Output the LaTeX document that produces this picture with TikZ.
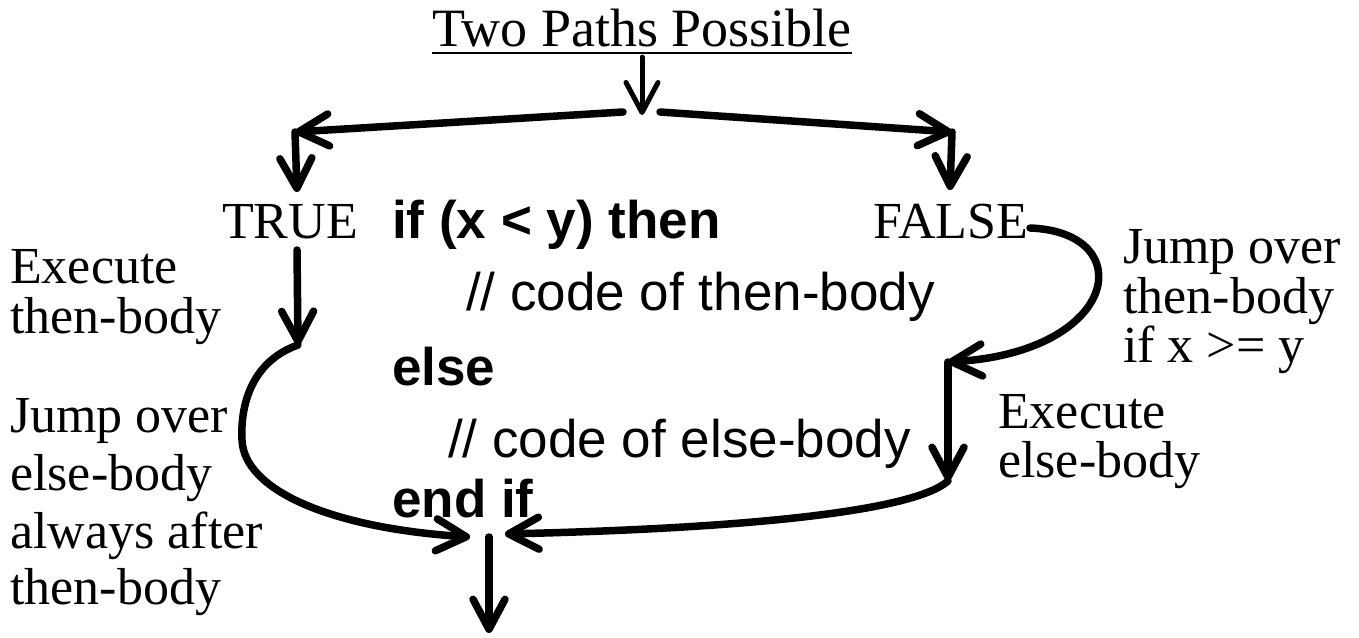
\documentclass[tikz,border=0pt]{standalone}
\usepackage{fontspec}
\setmainfont{Liberation Serif}
\setsansfont{Liberation Sans}
\usetikzlibrary{arrows.meta}

\tikzset{
  note/.style={anchor=base west, inner sep=0pt, font=\fontsize{52}{56}\selectfont},
  code/.style={anchor=base west, inner sep=0pt, font=\sffamily\fontsize{53}{56}\selectfont},
  kw/.style={code, font=\sffamily\bfseries\fontsize{53}{56}\selectfont},
  flow/.style={line width=7.5pt, line cap=round, line join=round,
    -{Straight Barb[length=30pt,width=32pt,round]}},
}

\begin{document}
\begin{tikzpicture}[x=1pt, y=-1pt]
\useasboundingbox (0,0) rectangle (1359,637);

% heading
\node[note, anchor=base, font=\fontsize{54}{58}\selectfont] (title) at (642,46) {Two Paths Possible};
\draw[line width=2.5pt] ([yshift=-7pt]title.base west) -- ([yshift=-7pt]title.base east);

% the if statement
\node[note] (true) at (222,238) {TRUE};
\node[note] (false) at (873,238) {FALSE};
\node[kw] (if) at (392,238) {if (x < y) then};
\node[code] (thenbody) at (466,310) {// code of then-body};
\node[kw] (else) at (392,385) {else};
\node[code] (elsebody) at (448,457) {// code of else-body};
\node[kw] (endif) at (392,517) {end if};

% side notes
\node[note] (exec1) at (10,283) {Execute};
\node[note] (exec2) at (10,333) {then-body};
\node[note] (jump1) at (10,432) {Jump over};
\node[note] (jump2) at (10,490) {else-body};
\node[note] (jump3) at (10,548) {always after};
\node[note] (jump4) at (10,604) {then-body};
\node[note] (skip1) at (1123,263) {Jump over};
\node[note] (skip2) at (1123,313) {then-body};
\node[note] (skip3) at (1123,362) {if x >= y};
\node[note] (exec3) at (998,428) {Execute};
\node[note] (exec4) at (998,477) {else-body};

% joints of the flow
\coordinate (titleOut) at (642,57);
\coordinate (fork) at (642,115);
\coordinate (forkL) at (623,112);
\coordinate (forkR) at (660,112);
\coordinate (cornerL) at (295,132);
\coordinate (cornerR) at (952,132);
\coordinate (trueIn) at (297,192);
\coordinate (falseIn) at (950,190);
\coordinate (trueOut) at (297,250);
\coordinate (thenIn) at (298,345);
\coordinate (falseOut) at (1030,228);
\coordinate (elseIn) at (948,362);
\coordinate (elseOut) at (948,481);
\coordinate (joinL) at (470,537);
\coordinate (joinR) at (505,534);
\coordinate (join) at (489,537);
\coordinate (exit) at (489,633);

\draw[flow, line width=5pt] (titleOut) -- (fork);
\draw[flow] (forkL) -- (cornerL);
\draw[flow] (forkR) -- (cornerR);
\draw[flow] (cornerL) -- (trueIn);
\draw[flow] (cornerR) -- (falseIn);
\draw[flow] (trueOut) -- (thenIn);
\draw[flow] (thenIn) .. controls (255,360) and (240,400) .. (242,440)
  .. controls (244,490) and (330,528) .. (joinL);
\draw[flow] (falseOut) .. controls (1140,232) and (1120,352) .. (elseIn);
\draw[flow] (elseIn) -- (elseOut);
\draw[flow] (elseOut) .. controls (915,510) and (760,528) .. (joinR);
\draw[flow] (join) -- (exit);

\end{tikzpicture}
\end{document}
